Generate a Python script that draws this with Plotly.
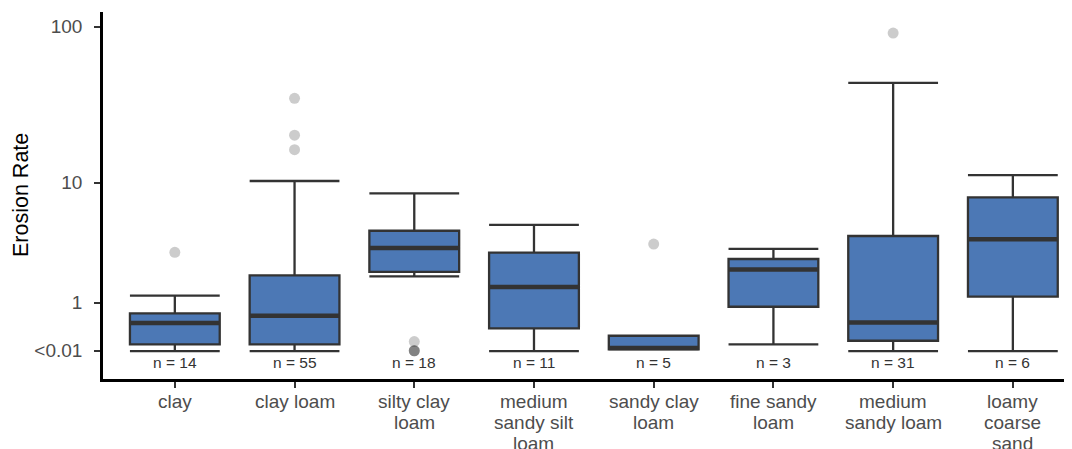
import numpy as np
import plotly.graph_objects as go

# ---------------- data ----------------
categories = ["clay", "clay loam", "silty clay loam", "medium sandy silt loam",
              "sandy clay loam", "fine sandy loam", "medium sandy loam", "loamy coarse sand"]
label_lines = [["clay"], ["clay loam"], ["silty clay", "loam"], ["medium", "sandy silt", "loam"],
               ["sandy clay", "loam"], ["fine sandy", "loam"], ["medium", "sandy loam"],
               ["loamy", "coarse", "sand"]]
n_obs = [14, 55, 18, 11, 5, 3, 31, 6]
lower_whisker = [0.005, 0.005, 1.91, 0.005, 0.03, 0.106, 0.005, 0.005]
q1_vals = [0.106, 0.106, 2.10, 0.389, 0.03, 0.888, 0.164, 1.18]
median_vals = [0.50, 0.66, 3.35, 1.50, 0.05, 2.21, 0.51, 3.92]
q3_vals = [0.72, 1.95, 4.56, 3.07, 0.25, 2.72, 4.16, 7.93]
upper_whisker = [1.21, 10.27, 8.46, 5.05, 0.25, 3.30, 44.4, 11.27]
outlier_cat = [0, 1, 1, 1, 2, 2, 2, 2, 4, 6]
outlier_val = [3.09, 35.5, 20.6, 16.6, 0.15, 0.01, 0.01, 0.01, 3.60, 91.3]
y_tick_vals = [0.01, 1, 10, 100]
y_tick_text = ["&lt;0.01", "1", "10", "100"]


def tr(v):
    """pseudo-log transform log10(x + 1)"""
    return np.log10(np.asarray(v, dtype=float) + 1)


FONT = "Liberation Sans, Arial, sans-serif"
BOX_W = 0.75
xs = np.arange(len(categories))

# page body has an 8px margin; plot area is placed so it lands where the reference has it
ML, MT = 95, 4
PLOT_W = 969
fig = go.Figure()

fig.add_trace(go.Box(
    x=xs, q1=tr(q1_vals), median=tr(median_vals), q3=tr(q3_vals),
    lowerfence=tr(lower_whisker), upperfence=tr(upper_whisker),
    width=BOX_W, whiskerwidth=1, boxpoints=False,
    fillcolor="#4C78B5", line=dict(color="#333333", width=2.3),
    showlegend=False, hoverinfo="skip",
))

# thick median lines
mx, my = [], []
for i, m in zip(xs, tr(median_vals)):
    mx += [i - BOX_W / 2, i + BOX_W / 2, None]
    my += [m, m, None]
fig.add_trace(go.Scatter(x=mx, y=my, mode="lines",
                         line=dict(color="#333333", width=4.5),
                         showlegend=False, hoverinfo="skip"))

# outliers
fig.add_trace(go.Scatter(x=outlier_cat, y=tr(outlier_val), mode="markers",
                         marker=dict(size=11, color="rgba(0,0,0,0.2)", line=dict(width=0)),
                         showlegend=False, hoverinfo="skip"))

annotations = []
# n labels
for i, n in zip(xs, n_obs):
    annotations.append(dict(x=i, y=-0.07, xref="x", yref="y", text=f"n = {n}",
                            showarrow=False, xanchor="center", yanchor="middle",
                            font=dict(family=FONT, size=15.5, color="#333333")))
# x category labels (one annotation per line, ggplot-like line spacing)
for i, lines in zip(xs, label_lines):
    for k, line in enumerate(lines):
        annotations.append(dict(x=i, y=0, xref="x", yref="paper", text=line,
                                showarrow=False, xanchor="center", yanchor="middle",
                                yshift=-(22.7 + 21 * k),
                                font=dict(family=FONT, size=19, color="#4D4D4D")))
# y-axis title
annotations.append(dict(x=(12.5 - ML) / PLOT_W, y=0.5, xref="paper", yref="paper",
                        text="Erosion Rate",
                        textangle=-90, showarrow=False, xanchor="center", yanchor="middle",
                        font=dict(family=FONT, size=21.5, color="#000000")))

fig.update_layout(
    width=1072, height=449,
    margin=dict(l=ML, r=1072 - ML - PLOT_W, t=MT, b=449 - MT - 367),
    plot_bgcolor="white", paper_bgcolor="white",
    annotations=annotations,
    font=dict(family=FONT),
    xaxis=dict(range=[-0.6, 7.494], tickmode="array", tickvals=list(xs),
               showticklabels=False, ticks="outside", ticklen=6, tickwidth=2,
               tickcolor="#333333", showline=True, linecolor="black", linewidth=2.5,
               showgrid=False, zeroline=False, fixedrange=True),
    yaxis=dict(range=[-0.170, 2.095], tickmode="array", tickvals=list(tr(y_tick_vals)),
               ticktext=y_tick_text, ticks="outside", ticklen=6, tickwidth=2,
               tickcolor="#333333", tickfont=dict(family=FONT, size=19, color="#4D4D4D"),
               ticklabelstandoff=8,
               showline=True, linecolor="black", linewidth=2.5,
               showgrid=False, zeroline=False, fixedrange=True),
)

fig.write_html("out.html")
